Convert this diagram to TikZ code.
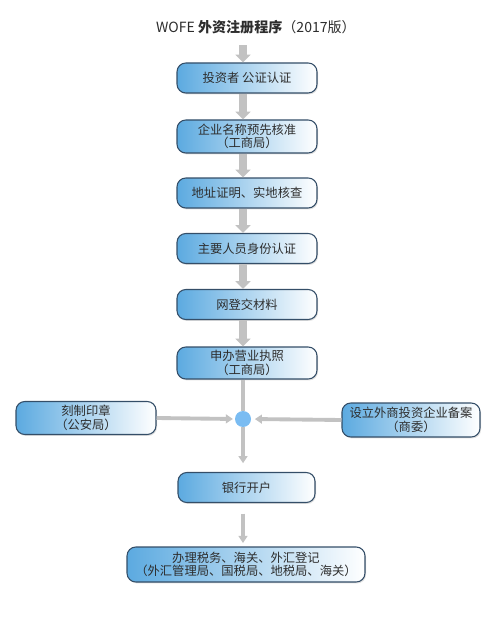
\documentclass[tikz,border=0pt]{standalone}
\usepackage{fontspec}
\setmainfont{Noto Sans CJK SC}
\usetikzlibrary{arrows.meta,shadows}

\definecolor{boxblue}{RGB}{92,170,224}
\definecolor{boxedge}{RGB}{52,78,104}
\definecolor{flowgray}{RGB}{194,194,194}
\definecolor{hubblue}{RGB}{122,188,242}
\definecolor{txtgray}{RGB}{45,45,45}

\tikzset{
  stepbox/.style={draw=boxedge, line width=0.6pt, rounded corners=5pt,
    left color=boxblue, middle color=boxblue!30, right color=white,
    text=txtgray, align=center,
    minimum width=2.8cm, minimum height=0.6cm, inner sep=1pt,
    font=\fontsize{7pt}{7.8pt}\selectfont,
    drop shadow={opacity=0.25, shadow xshift=0.6pt, shadow yshift=-0.8pt}},
  bigflow/.style={draw=flowgray, line width=5pt,
    -{Triangle[width=8.5pt,length=4.5pt]}},
  thinflow/.style={draw=flowgray, line width=2.2pt,
    -{Triangle[width=5pt,length=4pt]}},
  hub/.style={circle, fill=hubblue, minimum size=0.32cm, inner sep=0pt}
}

\begin{document}
\begin{tikzpicture}[x=0.02cm, y=-0.02cm]
    \useasboundingbox (0, 0) rectangle (500, 624);

    % Title
    \node[text=txtgray, font=\fontsize{8pt}{9pt}\selectfont] (title) at (256, 27)
        {WOFE \textbf{外资注册程序}（2017版）};

    % Main sequence
    \node[stepbox] (b1) at (247, 78) {投资者 公证认证};
    \node[stepbox, minimum height=0.66cm] (b2) at (247, 136.5) {企业名称预先核准\\（工商局）};
    \node[stepbox] (b3) at (247, 193) {地址证明、实地核查};
    \node[stepbox] (b4) at (247, 248.5) {主要人员身份认证};
    \node[stepbox] (b5) at (247, 304.5) {网登交材料};
    \node[stepbox, minimum height=0.64cm] (b6) at (247, 363) {申办营业执照\\（工商局）};

    % Junction and side steps
    \node[hub] (hub) at (243, 419) {};
    \node[stepbox, minimum height=0.66cm] (seal) at (86, 418) {刻制印章\\（公安局）};
    \node[stepbox, minimum height=0.68cm, minimum width=2.76cm] (filing) at (411, 420) {设立外商投资企业备案\\（商委）};

    \node[stepbox, minimum width=2.74cm] (bank) at (246.5, 487.5) {银行开户};
    \node[stepbox, minimum width=4.76cm, minimum height=0.7cm] (tax) at (246, 564.5)
        {办理税务、海关、外汇登记\\（外汇管理局、国税局、地税局、海关）};

    % Arrows
    \draw[bigflow, shorten <=3pt] (title.south -| hub) -- (b1.north -| hub);
    \foreach \a/\b in {b1/b2, b2/b3, b3/b4, b4/b5, b5/b6} {
        \draw[bigflow] (\a.south -| hub) -- (\b.north -| hub);
    }
    \draw[draw=flowgray, line width=2.2pt] (b6.south -| hub) -- (hub.north);
    \draw[thinflow, shorten >=5pt] (hub.south) -- (bank.north -| hub);
    \draw[thinflow, shorten >=1pt] (seal.east) -- (hub.west);
    \draw[thinflow, shorten >=2pt] (filing.west) -- (hub.east);
    \draw[thinflow, shorten <=6pt, shorten >=2pt] (bank.south -| hub) -- (tax.north -| hub);
\end{tikzpicture}
\end{document}
